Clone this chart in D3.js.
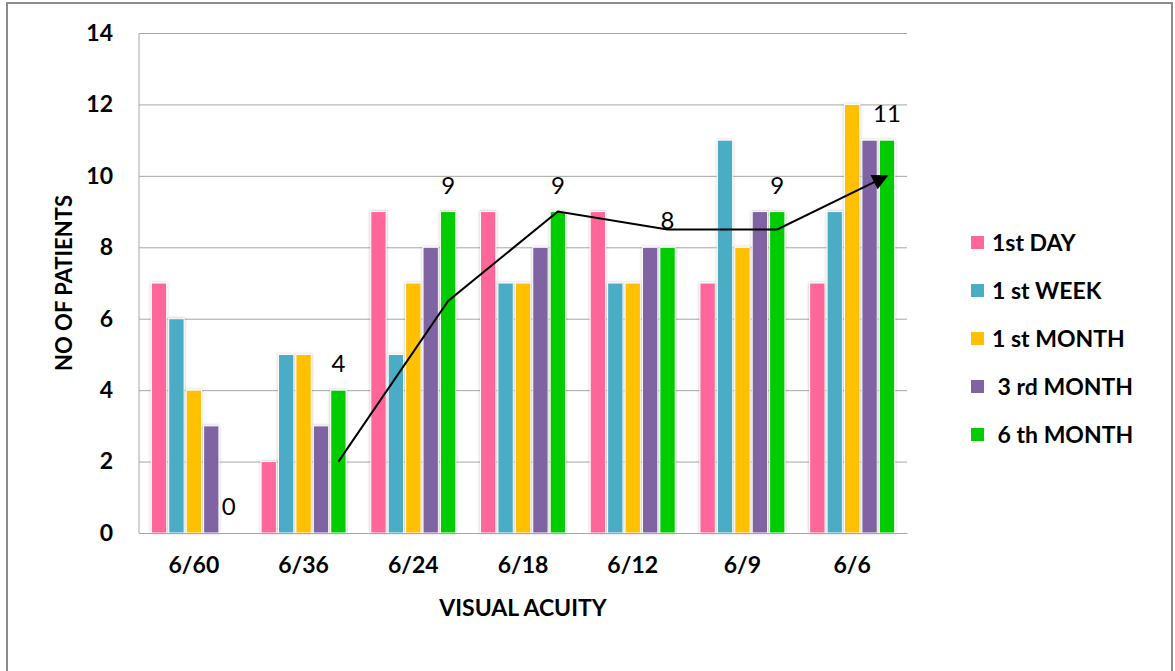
<!DOCTYPE html>
<html>
<head>
<meta charset="utf-8">
<script src="https://cdn.jsdelivr.net/npm/d3@7"></script>
<style>
  html, body { margin: 0; padding: 0; background: #fff; }
  svg { display: block; }
  text { font-family: Lato, "Open Sans", "DejaVu Sans", sans-serif; }
</style>
</head>
<body>
<svg id="chart" width="1175" height="671"></svg>
<script>
// Visual acuity groups on the x axis
const categories = ["6/60", "6/36", "6/24", "6/18", "6/12", "6/9", "6/6"];

// Follow-up visits (legend entries)
const legendLabels = ["1st DAY", "1 st WEEK", "1 st MONTH", " 3 rd MONTH", " 6 th MONTH"];

// Number of patients per visit, one value per acuity group
const firstDay   = [7, 2, 9, 9, 9, 7, 7];
const firstWeek  = [6, 5, 5, 7, 7, 11, 9];
const firstMonth = [4, 5, 7, 7, 7, 8, 12];
const thirdMonth = [3, 3, 8, 8, 8, 9, 11];
const sixthMonth = [0, 4, 9, 9, 8, 9, 11];

// Trend arrow drawn across the 6th-month bars (no point at 6/60)
const trendValues = [null, 2, 6.5, 9, 8.5, 8.5, 10];

const yTicks = [0, 2, 4, 6, 8, 10, 12, 14];

const seriesValues = [firstDay, firstWeek, firstMonth, thirdMonth, sixthMonth];
const colors = ["#FF6699", "#4BACC6", "#FFC000", "#8064A2", "#00CC00"];

const svg = d3.select("#chart");

// outer chart frame
svg.append("rect")
  .attr("x", 7).attr("y", 3)
  .attr("width", 1165).attr("height", 720)
  .attr("fill", "#fff")
  .attr("stroke", "#8c8c8c").attr("stroke-width", 2);

const defs = svg.append("defs");
const shadow = defs.append("filter").attr("id", "barShadow")
  .attr("x", "-50%").attr("y", "-10%").attr("width", "200%").attr("height", "120%");
shadow.append("feDropShadow")
  .attr("dx", 0).attr("dy", 0).attr("stdDeviation", 1.6)
  .attr("flood-color", "#000").attr("flood-opacity", 0.28);

defs.append("marker").attr("id", "arrowHead")
  .attr("viewBox", "0 0 10 10")
  .attr("refX", 9).attr("refY", 5)
  .attr("markerWidth", 9).attr("markerHeight", 8)
  .attr("markerUnits", "strokeWidth")
  .attr("orient", "auto")
  .append("path").attr("d", "M0,0 L10,5 L0,10 Z").attr("fill", "#000");

const plot = { left: 139, right: 907, top: 33, bottom: 533 };
const axisFont = 23;

const x0 = d3.scaleBand().domain(categories).range([plot.left, plot.right]).padding(0);
const groupW = 85;
const x1 = d3.scaleBand().domain(d3.range(seriesValues.length))
  .range([(x0.bandwidth() - groupW) / 2, (x0.bandwidth() + groupW) / 2])
  .paddingInner(0.12).paddingOuter(0);
const y = d3.scaleLinear().domain([0, 14]).range([plot.bottom, plot.top]);

// y axis with gridlines
const yAxis = svg.append("g")
  .attr("transform", `translate(${plot.left},0)`)
  .call(d3.axisLeft(y).tickValues(yTicks).tickSize(-(plot.right - plot.left)).tickPadding(26));
yAxis.select(".domain").attr("stroke", "#a6a6a6").attr("d", `M0,${plot.top}V${plot.bottom}`);
yAxis.selectAll(".tick line").attr("stroke", "#a6a6a6").attr("stroke-width", 1);
yAxis.selectAll(".tick text")
  .attr("font-family", "Lato, sans-serif")
  .attr("font-size", axisFont).attr("font-weight", "bold").attr("fill", "#000");

// bars
const groups = svg.append("g").selectAll("g")
  .data(categories).join("g")
  .attr("transform", d => `translate(${x0(d)},0)`);

groups.selectAll("rect")
  .data((c, ci) => seriesValues.map((vals, si) => ({ si, v: vals[ci] })))
  .join("rect")
  .filter(d => d.v > 0)
  .attr("x", d => x1(d.si))
  .attr("y", d => y(d.v))
  .attr("width", x1.bandwidth())
  .attr("height", d => y(0) - y(d.v))
  .attr("fill", d => colors[d.si])
  .attr("stroke", "#fff").attr("stroke-width", 1)
  .attr("filter", "url(#barShadow)");

// x axis
const xAxis = svg.append("g")
  .attr("transform", `translate(0,${plot.bottom})`)
  .call(d3.axisBottom(x0).tickSize(0).tickPadding(24));
xAxis.select(".domain").attr("stroke", "#a6a6a6");
xAxis.selectAll(".tick text")
  .attr("font-family", "Lato, sans-serif")
  .attr("font-size", axisFont).attr("font-weight", "bold").attr("fill", "#000");

const lastIdx = seriesValues.length - 1;
const barCenter = c => x0(c) + x1(lastIdx) + x1.bandwidth() / 2;

// trend arrow
const trendPts = categories.map((c, i) => ({ c, v: trendValues[i] })).filter(d => d.v != null);
svg.append("path")
  .datum(trendPts)
  .attr("fill", "none")
  .attr("stroke", "#000").attr("stroke-width", 2)
  .attr("marker-end", "url(#arrowHead)")
  .attr("d", d3.line().x(d => barCenter(d.c)).y(d => y(d.v)));

// value labels on the 6th-month bars
svg.append("g").selectAll("text")
  .data(categories.map((c, i) => ({ c, v: sixthMonth[i] })))
  .join("text")
  .attr("x", d => barCenter(d.c))
  .attr("y", d => y(d.v) - 18)
  .attr("text-anchor", "middle")
  .attr("font-family", "Lato, sans-serif")
  .attr("font-size", 24).attr("fill", "#000")
  .text(d => d.v);

// axis titles
svg.append("text")
  .attr("x", (plot.left + plot.right) / 2).attr("y", 616)
  .attr("text-anchor", "middle")
  .attr("font-size", axisFont).attr("font-weight", "bold")
  .text("VISUAL ACUITY");

svg.append("text")
  .attr("transform", `translate(72,${(plot.top + plot.bottom) / 2}) rotate(-90)`)
  .attr("text-anchor", "middle")
  .attr("font-size", axisFont - 1).attr("font-weight", "bold")
  .text("NO OF PATIENTS");

// legend
const legend = svg.append("g").selectAll("g")
  .data(legendLabels).join("g")
  .attr("transform", (d, i) => `translate(971,${243 + i * 48})`);
legend.append("rect")
  .attr("x", 0).attr("y", -7).attr("width", 13).attr("height", 13)
  .attr("fill", (d, i) => colors[i]);
legend.append("text")
  .attr("x", 21).attr("y", 8)
  .attr("font-size", axisFont).attr("font-weight", "bold")
  .attr("xml:space", "preserve")
  .style("white-space", "pre")
  .text(d => d);
</script>
</body>
</html>
